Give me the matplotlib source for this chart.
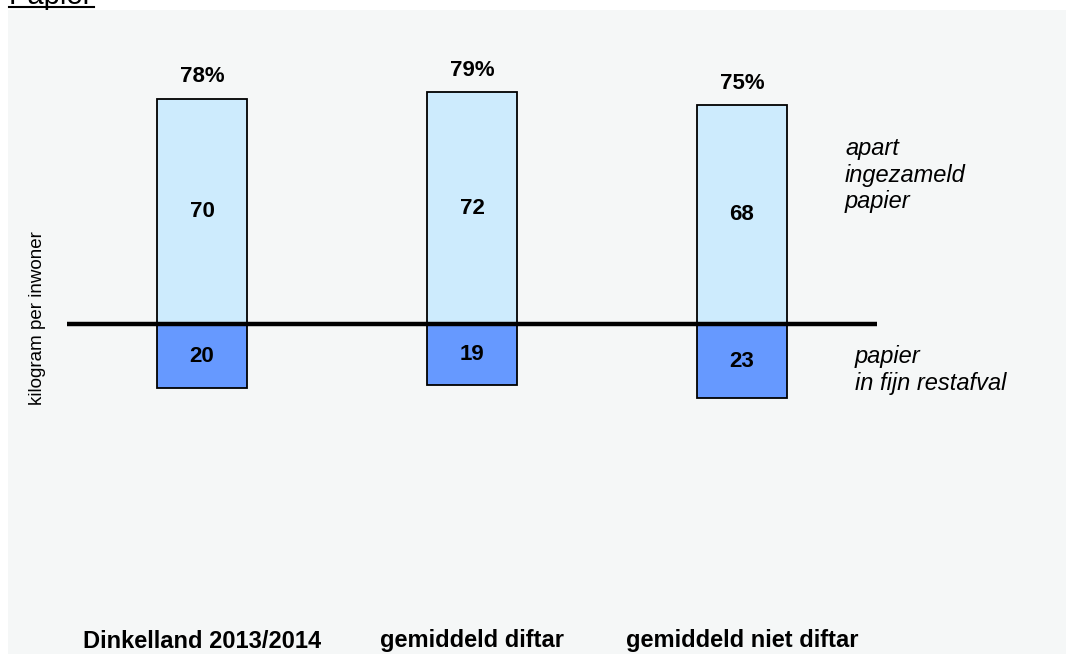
import matplotlib
matplotlib.use("Agg")
import matplotlib.pyplot as plt
from matplotlib.patches import Rectangle
from matplotlib.lines import Line2D

categories = ["Dinkelland 2013/2014", "gemiddeld diftar", "gemiddeld niet diftar"]
apart_ingezameld = [70, 72, 68]
in_restafval = [20, 19, 23]
percentages = ["78%", "79%", "75%"]

plt.rcParams['font.family'] = ['Liberation Sans', 'DejaVu Sans']

W, H = 1068, 654
fig = plt.figure(figsize=(W / 100, H / 100), dpi=100, facecolor='white')

# light grey panel
fig.patches.append(Rectangle((8 / W, 0), (1066 - 8) / W, (H - 10) / H,
                             transform=fig.transFigure, facecolor='#f5f7f7',
                             edgecolor='none', zorder=-5))

# cut-off title at top
fig.text(9 / W, 1 - 3.5 / H, "Papier", fontsize=21, ha='left', va='baseline', color='black')
fig.lines.append(Line2D([9 / W, 94 / W], [1 - 6.5 / H, 1 - 6.5 / H],
                        transform=fig.transFigure, color='black', lw=1.5))

# axes: x -0.5..2.5 -> px 67..877 ; y: baseline px 324, ~3.22 px/kg
ymin, ymax = -30, 80
px_per = 3.22
top_px = 324 - ymax * px_per
bot_px = 324 - ymin * px_per
ax = fig.add_axes([67 / W, (H - bot_px) / H, 810 / W, (bot_px - top_px) / H])
ax.set_zorder(2)
ax.set_xlim(-0.5, 2.5)
ax.set_ylim(ymin, ymax)
ax.axis('off')
ax.patch.set_alpha(0)

x = list(range(len(categories)))
bw = 90 / 270
ax.bar(x, apart_ingezameld, width=bw, color='#cdebfd', edgecolor='black', linewidth=1.3, zorder=2)
ax.bar(x, [-v for v in in_restafval], width=bw, color='#6699ff', edgecolor='black', linewidth=1.3, zorder=2)
ax.axhline(0, xmin=0, xmax=1, color='black', lw=3.2, zorder=3)

for xi, a, r, p in zip(x, apart_ingezameld, in_restafval, percentages):
    ax.text(xi, a / 2, str(a), ha='center', va='center', fontsize=16, fontweight='bold')
    ax.text(xi, -r / 2, str(r), ha='center', va='center', fontsize=16, fontweight='bold')
    ax.annotate(p, (xi, a), xytext=(0, 8), textcoords='offset points',
                ha='center', va='bottom', fontsize=16, fontweight='bold')
    ax.annotate(categories[xi], (xi, 0), xycoords=('data', 'figure fraction'),
                xytext=(xi, 1 - 641 / H), textcoords=('data', 'figure fraction'),
                ha='center', va='center', fontsize=17, fontweight='bold',
                annotation_clip=False)

fig.text(845 / W, 1 - 137 / H, "apart\ningezameld\npapier", ha='left', va='top',
         fontsize=17, fontstyle='italic', linespacing=1.2)
fig.text(855 / W, 1 - 345 / H, "papier\nin fijn restafval", ha='left', va='top',
         fontsize=17, fontstyle='italic', linespacing=1.2)

fig.text(38 / W, 1 - 318 / H, "kilogram per inwoner", rotation=90, ha='center', va='center',
         fontsize=13.5)

fig.savefig("out.png", dpi=100, facecolor='white')
